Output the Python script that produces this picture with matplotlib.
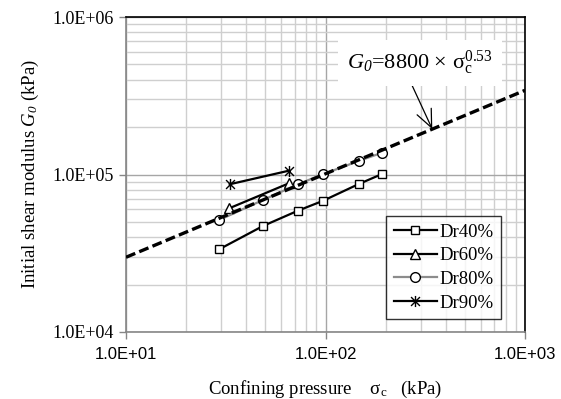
import matplotlib
matplotlib.use("Agg")
import matplotlib.pyplot as plt
import numpy as np
from matplotlib.path import Path
from matplotlib.ticker import FuncFormatter, LogLocator, NullFormatter

plt.rcParams['mathtext.fontset'] = 'custom'
plt.rcParams['mathtext.rm'] = 'Liberation Serif'
plt.rcParams['mathtext.it'] = 'Liberation Serif:italic'
# bf slot used for italic digits (mathtext forces non-letters in 'it' to roman)
plt.rcParams['mathtext.bf'] = 'Liberation Serif:italic'
plt.rcParams['font.family'] = ['Liberation Serif', 'DejaVu Serif']

# ---- data ----
dr40_x = [29.3, 48.6, 72.7, 97, 146.8, 192]
dr40_y = [33500, 47100, 58900, 68000, 87000, 100700]
dr60_x = [32.9, 65.5]
dr60_y = [61000, 87900]
dr80_x = [29.3, 48.6, 72.7, 97, 146.8, 192]
dr80_y = [51400, 68900, 86700, 100300, 121900, 137500]
dr90_x = [33.1, 65.5]
dr90_y = [86700, 105700]
fit_a = 8800
fit_b = 0.53
fit_range = [10, 1000]
series_labels = ['Dr40%', 'Dr60%', 'Dr80%', 'Dr90%']

fig = plt.figure(figsize=(5.61, 3.99), dpi=100)
ax = fig.add_axes([126/561, 1-332/399, (525-126)/561, (332-17)/399])
ax.set_xscale('log')
ax.set_yscale('log')
ax.set_xlim(10, 1000)
ax.set_ylim(1e4, 1e6)

# grid
ax.grid(which='major', color='#a6a6a6', linewidth=1.0, zorder=0)
ax.grid(which='minor', color='#cfcfcf', linewidth=1.0, zorder=0)
ax.set_axisbelow(True)

star = Path([(0, -1), (0, 1), (-0.8, -0.8), (0.8, 0.8), (-0.8, 0.8), (0.8, -0.8)],
            [Path.MOVETO, Path.LINETO, Path.MOVETO, Path.LINETO, Path.MOVETO, Path.LINETO])

ax.plot(dr40_x, dr40_y, color='black', lw=1.6, marker='s', ms=6, mfc='white', mec='black', mew=1.0,
        label=series_labels[0], zorder=3)
ax.plot(dr60_x, dr60_y, color='black', lw=1.6, marker='^', ms=7, mfc='white', mec='black', mew=1.0,
        label=series_labels[1], zorder=3)
ax.plot(dr80_x, dr80_y, color='#8c8c8c', lw=1.6, marker='o', ms=7, mfc='white', mec='black', mew=1.0,
        label=series_labels[2], zorder=3)
ax.plot(dr90_x, dr90_y, color='black', lw=1.6, marker=star, ms=8, mfc='none', mec='black', mew=1.0,
        label=series_labels[3], zorder=3)

fx = np.logspace(np.log10(fit_range[0]), np.log10(fit_range[1]), 50)
ax.plot(fx, fit_a * fx ** fit_b, color='black', lw=2.4, dashes=(3, 1.3), zorder=4)

# annotation
arrow_x = 343
ax.annotate(r'$G_{\mathbf{0}}$=8800 × σ$_{\mathrm{c}}^{0.53}$',
            xy=(arrow_x, fit_a * arrow_x ** fit_b), xycoords='data',
            xytext=(0.737, 0.855), textcoords='axes fraction',
            ha='center', va='center', fontsize=16,
            bbox=dict(boxstyle='square,pad=0.4', fc='white', ec='none'),
            arrowprops=dict(arrowstyle='->,head_length=0.8,head_width=0.35', color='black', lw=0.9,
                            shrinkA=0, shrinkB=0, relpos=(0.4, 0.2)),
            zorder=5)

# spines
for s in ['left', 'bottom']:
    ax.spines[s].set_color('#868686')
    ax.spines[s].set_linewidth(1.2)
for s in ['top', 'right']:
    ax.spines[s].set_color('black')
    ax.spines[s].set_linewidth(1.2)

fmt = FuncFormatter(lambda v, p: f"{v:.1E}")
ax.xaxis.set_major_locator(LogLocator(base=10, numticks=10))
ax.yaxis.set_major_locator(LogLocator(base=10, numticks=10))
ax.xaxis.set_major_formatter(fmt)
ax.yaxis.set_major_formatter(fmt)
ax.xaxis.set_minor_formatter(NullFormatter())
ax.yaxis.set_minor_formatter(NullFormatter())
ax.tick_params(which='minor', length=0)
ax.tick_params(which='major', direction='out', length=5, width=1, color='#868686')
ax.tick_params(axis='y', which='major', labelsize=13, pad=4)
ax.tick_params(axis='x', which='major', labelsize=12, pad=6)
for lab in ax.get_xticklabels():
    lab.set_family('Liberation Sans')

ax.set_xlabel('Confining pressure    σ$_{\\mathrm{c}}$   (kPa)', fontsize=13.5, labelpad=12)
ax.set_ylabel(r'Initial shear modulus $G_{\mathbf{0}}$ (kPa)', fontsize=13.5, labelpad=8)

leg = ax.legend(loc='upper left', bbox_to_anchor=((386-126)/399, (332-216)/315),
                fontsize=13.5, frameon=True, fancybox=False, edgecolor='black',
                handlelength=2.3, handletextpad=0.15, borderpad=0.4, labelspacing=0.35,
                borderaxespad=0)
leg.get_frame().set_linewidth(1.0)
leg.set_zorder(6)

fig.savefig('out.png', dpi=100)
